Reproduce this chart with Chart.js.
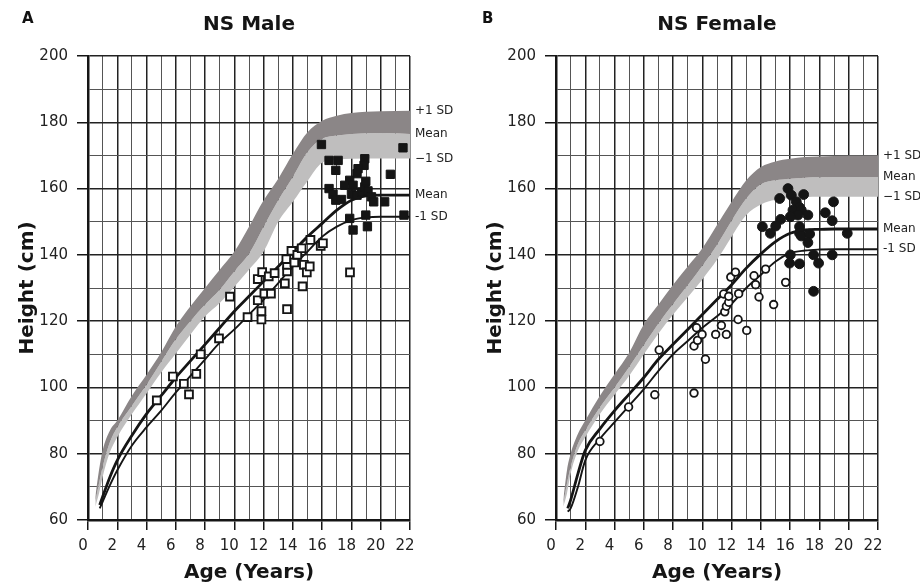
<!DOCTYPE html>
<html>
<head>
<meta charset="utf-8">
<script src="https://cdn.jsdelivr.net/npm/chart.js@4.4.0/dist/chart.umd.min.js"></script>
<style>
  html, body { margin: 0; padding: 0; background: #fff; }
  #wrap { position: relative; width: 920px; height: 585px; font-family: "DejaVu Sans", Verdana, sans-serif; }
  .panel { position: absolute; top: 0; width: 460px; height: 585px; }
  .tag { position: absolute; top: 9px; font-weight: bold; font-size: 15px; color: #111; }
</style>
</head>
<body>
<div id="wrap">
  <div class="panel" style="left:0"><canvas id="male"></canvas></div>
  <div class="panel" style="left:460px"><canvas id="female"></canvas></div>
  <div class="tag" style="left:22px">A</div>
  <div class="tag" style="left:482px">B</div>
</div>
<script>
// axis ticks
var ageTicks = [0, 2, 4, 6, 8, 10, 12, 14, 16, 18, 20, 22];
var heightTicks = [60, 80, 100, 120, 140, 160, 180, 200];

// reference population bands (+1 SD / mean / -1 SD)
var refAges = [0.5, 0.75, 1, 1.5, 2, 3, 4, 5, 6, 7, 8, 9, 10, 11, 12, 13, 14, 15, 16, 17, 18, 20, 22];
var maleRefPlus1 = [67, 75, 81, 87, 90, 97.5, 103.8, 110.6, 118.4, 124.5, 130, 135.5, 141, 148.5, 156.5, 163, 170.5, 177, 180.5, 182, 182.8, 183.3, 183.5];
var maleRefMean = [65.5, 71, 76, 83.5, 88, 94.5, 100.8, 107.7, 114.5, 120, 125, 129.5, 135, 140.3, 148.5, 156.5, 163.5, 171, 175, 176, 176.5, 176.8, 176.5];
var maleRefMinus1 = [64, 68, 73, 80.5, 85, 92, 98.2, 104.5, 110.2, 116, 121.5, 125.5, 130.4, 135.5, 141, 150, 156, 162.3, 167.8, 168.7, 169, 169.1, 169.1];
var femaleRefPlus1 = [66, 75, 80, 86, 90, 97.5, 104, 110.5, 119, 125, 131, 136.5, 142, 149, 156, 162.5, 166.5, 168.2, 169, 169.5, 169.7, 169.9, 170];
var femaleRefMean = [65, 71, 76, 83, 87, 94, 100, 106.2, 112.8, 119.3, 125.2, 130.8, 136.7, 143, 150.3, 157, 161.3, 162.5, 163, 163.3, 163.4, 163.5, 163.5];
var femaleRefMinus1 = [64, 68, 74, 81, 85, 92, 97.8, 103.5, 110, 116.3, 122, 127.2, 132.6, 138.5, 145.5, 152, 155.2, 156.6, 157.1, 157.4, 157.5, 157.5, 157.5];

// NS growth curves (mean / -1 SD)
var nsAges = [0.8, 1, 1.5, 2, 3, 4, 5, 6, 7, 8, 9, 10, 11, 12, 13, 14, 15, 16, 17, 18, 19, 20, 22];
var maleNsMean = [64.5, 67, 73, 78, 85.5, 92, 97.5, 103, 108, 113, 118, 123, 127.5, 132, 136.5, 141, 145.5, 149.5, 153.5, 156.5, 157.8, 158, 158];
var maleNsMinus1 = [63.5, 65.5, 70.5, 75, 82.5, 88, 93, 98.5, 103.5, 108.5, 113.5, 117.5, 122, 126.5, 131.5, 136.5, 141, 145.5, 148.5, 150.5, 151.3, 151.5, 151.5];
var femaleNsMean = [63.5, 66, 74, 81, 87.5, 93, 98, 103, 108.5, 113, 117.5, 122, 126.5, 131, 136, 140.3, 144, 146.5, 147.5, 147.7, 147.8, 147.8, 147.8];
var femaleNsMinus1 = [62.5, 63.5, 70, 78, 84.5, 89.5, 94.5, 99.5, 105, 110, 114, 118, 121.5, 125.3, 130, 134, 138, 140.5, 141.3, 141.6, 141.7, 141.7, 141.7];

// individual measurements
var maleYoungAge = [4.7, 5.8, 6.55, 6.9, 7.4, 7.7, 8.95, 9.7, 10.9, 11.6, 11.6, 11.9, 11.85, 11.85, 12.05, 12.35, 12.5, 12.75, 13.45, 13.6, 13.6, 13.6, 13.55, 13.9, 14.1, 14.3, 14.6, 14.75, 14.66, 14.95, 15.15, 15.2, 15.9, 16.05, 17.9];
var maleYoungHeight = [96.1, 103.3, 101.1, 97.9, 104.1, 110, 114.8, 127.4, 121.2, 126.3, 132.7, 134.8, 123, 120.5, 128.3, 133.5, 128.3, 134.5, 131.4, 123.6, 135, 137, 138.7, 141.2, 137.7, 140, 142, 137, 130.5, 134.7, 136.5, 144.5, 142.7, 143.5, 134.7];
var maleAdultAge = [15.95, 21.52, 20.66, 16.47, 17.09, 16.93, 18.91, 18.86, 18.45, 18.38, 17.88, 18.11, 17.54, 16.47, 16.74, 16.93, 17.32, 18.0, 18.38, 18.7, 18.91, 19.13, 19.37, 19.52, 20.27, 18.98, 17.88, 18.98, 18.11, 19.09, 21.59];
var maleAdultHeight = [173.3, 172.3, 164.3, 168.5, 168.5, 165.5, 169, 167, 166, 164.5, 162.5, 161, 161, 160, 158.3, 156.5, 156.7, 158.3, 158, 159, 160.5, 159.3, 157.5, 156, 156, 162.2, 151, 152, 147.5, 148.5, 152];
var femaleYoungAge = [3.0, 4.96, 6.75, 7.05, 9.43, 9.43, 9.67, 9.6, 9.98, 10.21, 10.91, 11.3, 11.64, 11.53, 11.64, 11.8, 11.46, 11.8, 11.94, 12.26, 12.44, 12.48, 13.03, 13.53, 13.64, 13.87, 14.32, 15.69, 14.87];
var femaleYoungHeight = [83.7, 94.1, 97.8, 111.3, 98.3, 112.5, 114.2, 118, 116, 108.5, 116, 118.7, 116, 122.8, 124.5, 125.7, 128.2, 127.5, 133.3, 134.8, 120.5, 128.3, 117.2, 133.7, 131, 127.3, 135.7, 131.7, 125];
var femaleAdultAge = [15.85, 15.28, 16.08, 16.92, 16.42, 16.64, 18.96, 16.19, 16.76, 16.53, 17.21, 16.01, 15.35, 18.4, 18.87, 15.01, 14.1, 14.65, 16.64, 16.64, 16.76, 17.33, 17.21, 19.9, 16.01, 15.96, 16.64, 17.6, 17.94, 18.87, 17.6];
var femaleAdultHeight = [160, 157, 158, 158.2, 156, 154.3, 156, 153.5, 153.5, 152, 152, 151.5, 150.7, 152.7, 150.3, 148.7, 148.5, 146.5, 148.5, 146.5, 145.7, 146.3, 143.7, 146.5, 140, 137.5, 137.3, 140, 137.5, 140, 129];

var FONT = '"DejaVu Sans", Verdana, sans-serif';
var INK = "#151515";

function zip(xs, ys) {
  return xs.map(function (x, i) { return { x: x, y: ys[i] }; });
}
function last(a) { return a[a.length - 1]; }

// text labels at the right end of each curve
var endLabels = {
  id: "endLabels",
  afterDraw: function (chart, args, opts) {
    var ctx = chart.ctx, area = chart.chartArea, y = chart.scales.y;
    ctx.save();
    ctx.font = "12px " + FONT;
    ctx.fillStyle = "#222";
    ctx.textBaseline = "middle";
    opts.items.forEach(function (it) {
      ctx.fillText(it.text, area.right + 5, y.getPixelForValue(it.value));
    });
    ctx.restore();
  }
};

function pointSet(xs, ys, style, filled, r, bw) {
  return {
    data: zip(xs, ys), showLine: false, pointStyle: style, pointRadius: r,
    pointBackgroundColor: filled ? INK : "#fff", pointBorderColor: INK,
    pointBorderWidth: bw
  };
}
function curve(xs, ys, w) {
  return {
    data: zip(xs, ys), borderColor: INK, borderWidth: w, pointRadius: 0,
    cubicInterpolationMode: "monotone", fill: false
  };
}
function band(ys, color, fillTo) {
  return {
    data: zip(refAges, ys), borderWidth: 0, borderColor: "rgba(0,0,0,0)", pointRadius: 0,
    cubicInterpolationMode: "monotone", fill: fillTo, backgroundColor: color
  };
}

function makeChart(id, cfg) {
  var datasets = [
    pointSet(cfg.adultAge, cfg.adultHeight, cfg.style, true, cfg.fullR, 1),
    pointSet(cfg.youngAge, cfg.youngHeight, cfg.style, false, cfg.openR, cfg.openW),
    curve(nsAges, cfg.nsMean, 2.8),
    curve(nsAges, cfg.nsMinus1, 1.9),
    band(cfg.refPlus1, "#8b8687", "+1"),
    band(cfg.refMean, "#bfbebe", "+1"),
    band(cfg.refMinus1, "rgba(0,0,0,0)", false)
  ];
  return new Chart(document.getElementById(id), {
    type: "line",
    data: { datasets: datasets },
    plugins: [endLabels],
    options: {
      responsive: true,
      maintainAspectRatio: false,
      animation: false,
      events: [],
      layout: { padding: { left: cfg.padLeft, right: cfg.padRight, top: 0, bottom: 0 } },
      scales: {
        x: {
          type: "linear", min: 0, max: 22,
          afterFit: function (s) { s.height = 65; },
          border: { color: INK, width: 2.5 },
          grid: {
            color: function (c) { return c.tick && c.tick.value % 2 === 0 ? "#222" : "#555"; },
            lineWidth: function (c) { return c.tick && c.tick.value % 2 === 0 ? 1.5 : 1; },
            tickColor: function (c) { return c.tick && c.tick.value % 2 === 0 ? INK : "rgba(0,0,0,0)"; },
            tickLength: 10
          },
          ticks: {
            stepSize: 1, autoSkip: false, maxRotation: 0, padding: 7, labelOffset: -5,
            color: "#222", font: { family: FONT, size: 15 },
            callback: function (v) { return ageTicks.indexOf(v) >= 0 ? String(v) : ""; }
          },
          title: {
            display: true, text: "Age (Years)", color: INK,
            font: { family: FONT, size: 20, weight: "bold" }, padding: { top: 0, bottom: 0 }
          }
        },
        y: {
          min: 60, max: 200,
          afterFit: function (s) { s.width = 88; },
          border: { color: INK, width: 2.5 },
          grid: {
            color: function (c) { return c.tick && c.tick.value % 20 === 0 ? "#222" : "#555"; },
            lineWidth: function (c) { return c.tick && c.tick.value % 20 === 0 ? 1.5 : 1; },
            tickColor: function (c) { return c.tick && c.tick.value % 20 === 0 ? INK : "rgba(0,0,0,0)"; },
            tickLength: 11
          },
          ticks: {
            stepSize: 10, autoSkip: false, padding: 9,
            color: "#222", font: { family: FONT, size: 15 },
            callback: function (v) { return heightTicks.indexOf(v) >= 0 ? String(v) : ""; }
          },
          title: {
            display: true, text: "Height (cm)", color: INK,
            font: { family: FONT, size: 20, weight: "bold" }, padding: { top: 16, bottom: 0 }
          }
        }
      },
      plugins: {
        legend: { display: false },
        tooltip: { enabled: false },
        title: {
          display: true, text: cfg.title, fullSize: false, color: INK,
          font: { family: FONT, size: 20, weight: "bold" },
          padding: { top: 13, bottom: 19 }
        },
        endLabels: {
          items: [
            { text: "+1 SD", value: last(cfg.refPlus1) },
            { text: "Mean", value: last(cfg.refMean) },
            { text: "\u22121 SD", value: last(cfg.refMinus1) },
            { text: "Mean", value: last(cfg.nsMean) },
            { text: "-1 SD", value: last(cfg.nsMinus1) }
          ]
        }
      }
    }
  });
}

makeChart("male", {
  title: "NS Male", padLeft: 0, padRight: 50, style: "rect", fullR: 5.9, openR: 5.5, openW: 1.9,
  refPlus1: maleRefPlus1, refMean: maleRefMean, refMinus1: maleRefMinus1,
  nsMean: maleNsMean, nsMinus1: maleNsMinus1,
  youngAge: maleYoungAge, youngHeight: maleYoungHeight,
  adultAge: maleAdultAge, adultHeight: maleAdultHeight
});

makeChart("female", {
  title: "NS Female", padLeft: 8, padRight: 42, style: "circle", fullR: 4.9, openR: 3.8, openW: 1.8,
  refPlus1: femaleRefPlus1, refMean: femaleRefMean, refMinus1: femaleRefMinus1,
  nsMean: femaleNsMean, nsMinus1: femaleNsMinus1,
  youngAge: femaleYoungAge, youngHeight: femaleYoungHeight,
  adultAge: femaleAdultAge, adultHeight: femaleAdultHeight
});
</script>
</body>
</html>
